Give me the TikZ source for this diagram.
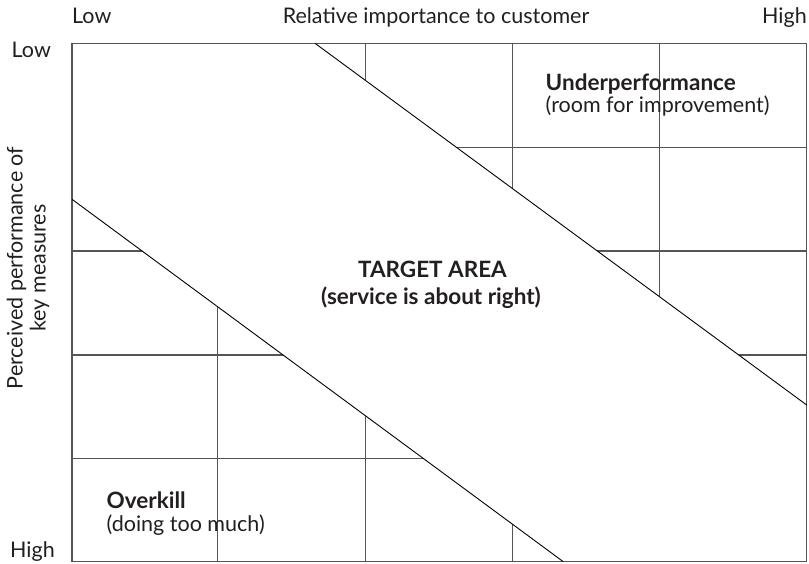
\documentclass[tikz,border=0pt]{standalone}
\usepackage{fontspec}
\setmainfont{Lato}
\definecolor{txt}{HTML}{231F20}
\definecolor{grid}{HTML}{555555}
\tikzset{
  lbl/.style={inner sep=0pt, text=txt, font=\fontsize{21.5}{23}\selectfont},
  blbl/.style={inner sep=0pt, text=txt, font=\fontsize{22.5}{24}\selectfont\bfseries},
  gridline/.style={draw=grid, line width=1.1pt},
  diag/.style={draw=black, line width=0.9pt},
}
\begin{document}
\begin{tikzpicture}[x=1pt,y=-1pt]
\useasboundingbox (0,0) rectangle (809,564);
% frame corners
\coordinate (tl) at (72,43.3);
\coordinate (tr) at (806.7,43.3);
\coordinate (br) at (806.7,561.7);
\coordinate (bl) at (72,561.7);
% diagonal ends
\coordinate (u1) at (315,43.3);
\coordinate (u2) at (806.7,405);
\coordinate (l1) at (72,199.3);
\coordinate (l2) at (563.3,561.7);
% grid in the underperformance region
\begin{scope}
  \clip (u1) -- (tr) -- (u2) -- cycle;
  \foreach \x in {217.7,365.7,512.3,659.7} \draw[gridline] (\x,43.3) -- (\x,561.7);
  \foreach \y in {147.7,251,355,458.3} \draw[gridline] (72,\y) -- (806.7,\y);
\end{scope}
% grid in the overkill region
\begin{scope}
  \clip (l1) -- (l2) -- (bl) -- cycle;
  \foreach \x in {217.7,365.7,512.3,659.7} \draw[gridline] (\x,43.3) -- (\x,561.7);
  \foreach \y in {147.7,251,355,458.3} \draw[gridline] (72,\y) -- (806.7,\y);
\end{scope}
\draw[gridline] (tl) rectangle (br);
\draw[diag] (u1) -- (u2);
\draw[diag] (l1) -- (l2);
% axis labels
\node[lbl, anchor=base west] (xlow) at (72,24) {Low};
\node[lbl, anchor=base] (xtitle) at (436,24) {Relative importance to customer};
\node[lbl, anchor=base east] (xhigh) at (807,24) {High};
\node[lbl, anchor=base west] (ylow) at (11.5,58) {Low};
\node[lbl, anchor=base west] (yhigh) at (10,557) {High};
\node[lbl, rotate=90, align=center] (ytitle) at (28,268) {Perceived performance of\\key measures};
% region labels
\node[blbl, anchor=base west] (under) at (545.5,91) {Underperformance};
\node[lbl, anchor=base west] (underdesc) at (545.5,113) {(room for improvement)};
\node[blbl, anchor=base] (target) at (432.5,278) {TARGET AREA};
\node[blbl, anchor=base] (targetdesc) at (431,305) {(service is about right)};
\node[blbl, anchor=base west] (over) at (106.5,508) {Overkill};
\node[lbl, anchor=base west] (overdesc) at (106.5,531) {(doing too much)};
\end{tikzpicture}
\end{document}
